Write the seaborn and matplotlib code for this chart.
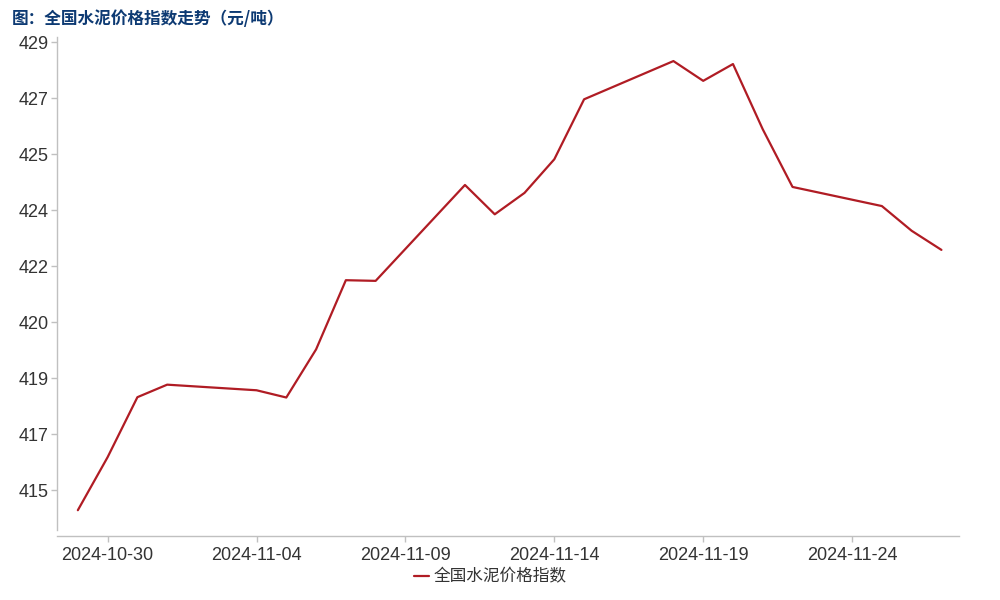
import matplotlib
matplotlib.use("Agg")
import matplotlib.pyplot as plt
import matplotlib.dates as mdates
import seaborn as sns
import pandas as pd
import numpy as np

dates = ["2024-10-29", "2024-10-30", "2024-10-31", "2024-11-01", "2024-11-04",
         "2024-11-05", "2024-11-06", "2024-11-07", "2024-11-08", "2024-11-11",
         "2024-11-12", "2024-11-13", "2024-11-14", "2024-11-15", "2024-11-18",
         "2024-11-19", "2024-11-20", "2024-11-21", "2024-11-22", "2024-11-25",
         "2024-11-26", "2024-11-27"]
values = [414.60, 416.21, 418.03, 418.41, 418.24,
          418.02, 419.48, 421.58, 421.56, 424.47,
          423.58, 424.23, 425.25, 427.07, 428.23,
          427.63, 428.14, 426.16, 424.41, 423.83,
          423.08, 422.50]
series_name = "全国水泥价格指数"
title = "图：全国水泥价格指数走势（元/吨）"
xtick_dates = ["2024-10-30", "2024-11-04", "2024-11-09", "2024-11-14", "2024-11-19", "2024-11-24"]
ytick_values = [415.2, 416.9, 418.6, 420.3, 422.0, 423.7, 425.4, 427.1, 428.8]
ytick_labels = ["415", "417", "419", "420", "422", "424", "425", "427", "429"]

sns.set_theme(style="white")
plt.rcParams["font.family"] = ["Liberation Sans", "Noto Sans CJK SC", "DejaVu Sans"]

df = pd.DataFrame({"date": pd.to_datetime(dates), "value": values, "series": series_name})

fig = plt.figure(figsize=(10, 6), dpi=100)
ax = fig.add_axes([0.057, 0.1167, 0.902, 0.8216])

sns.lineplot(data=df, x="date", y="value", hue="series", palette=["#b01c24"],
             linewidth=1.6, ax=ax, legend=False)

ax.set_ylim(414.0, 428.96)
ax.set_xlim(pd.Timestamp("2024-10-29") - pd.Timedelta(days=0.70),
            pd.Timestamp("2024-11-27") + pd.Timedelta(days=0.59))

ax.set_yticks(ytick_values)
ax.set_yticklabels(ytick_labels)
ax.set_xticks(pd.to_datetime(xtick_dates))
ax.xaxis.set_major_formatter(mdates.DateFormatter("%Y-%m-%d"))

for s in ["top", "right"]:
    ax.spines[s].set_visible(False)
for s in ["left", "bottom"]:
    ax.spines[s].set_color("#c0c0c0")
    ax.spines[s].set_linewidth(1.0)
ax.spines["bottom"].set_position(("outward", 4.5))

ax.tick_params(axis="both", which="major", labelsize=13, colors="#333333",
               length=4, width=1, color="#c0c0c0", pad=2, left=True, bottom=True)
ax.tick_params(axis="x", pad=4)
ax.set_xlabel("")
ax.set_ylabel("")
ax.grid(False)

fig.text(0.012, 0.968, title, fontsize=12, fontweight="bold", color="#0d3a73",
         ha="left", va="center", family=["Noto Sans CJK SC", "DejaVu Sans"])

from matplotlib.lines import Line2D
handle = Line2D([0], [0], color="#b01c24", linewidth=1.6)
leg = fig.legend([handle], [series_name], loc="center", bbox_to_anchor=(0.49, 0.038),
                 frameon=False, handlelength=0.9, handletextpad=0.3, fontsize=12)
for t in leg.get_texts():
    t.set_color("#333333")
    t.set_family(["Noto Sans CJK SC", "DejaVu Sans"])

fig.savefig("out.png", dpi=100)
